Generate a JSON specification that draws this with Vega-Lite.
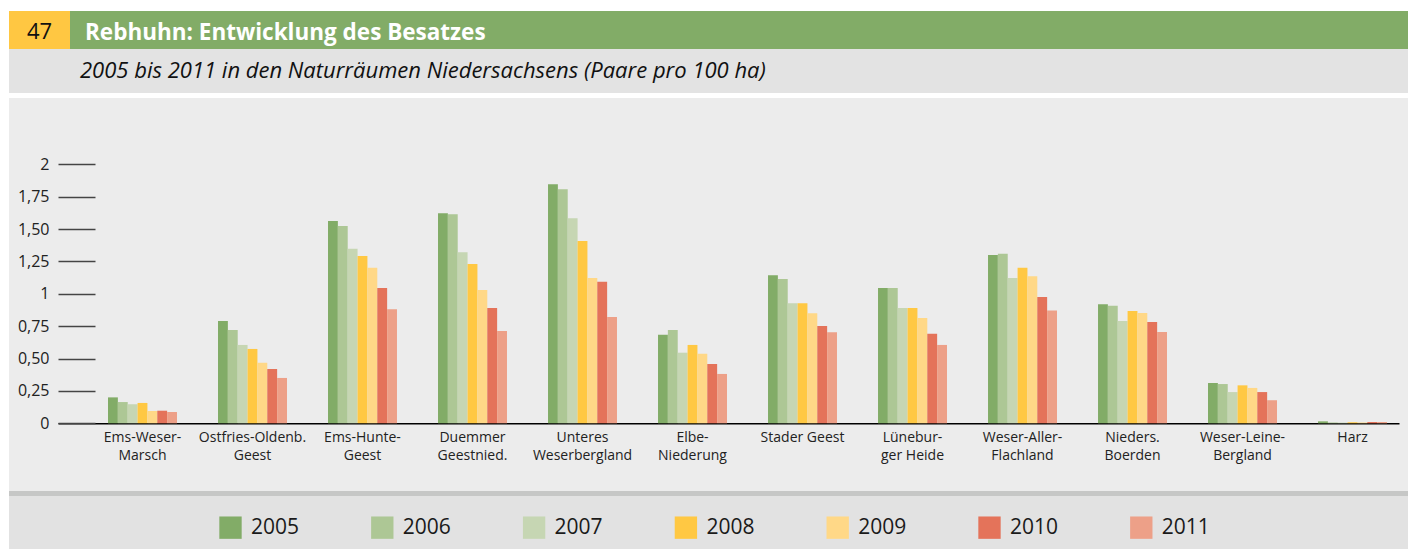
{
  "$schema": "https://vega.github.io/schema/vega-lite/v6.json",
  "background": "white",
  "padding": {"left": 9, "top": 11, "right": 0, "bottom": 0},
  "autosize": {"type": "pad"},
  "config": {
    "view": {"stroke": null},
    "font": "Open Sans",
    "concat": {"spacing": 0}
  },
  "spacing": 0,
  "resolve": {"scale": {"color": "shared"}, "legend": {"color": "shared"}},
  "vconcat": [
    {
      "spacing": 0,
      "bounds": "flush",
      "hconcat": [
        {
          "width": 61, "height": 38,
          "view": {"fill": "#FFC742", "stroke": null},
          "data": {"values": []},
          "mark": "rect",
          "title": {"text": "47", "anchor": "middle", "frame": "group", "offset": -33, "fontSize": 22, "fontWeight": 500, "color": "#111111", "font": "Open Sans"}
        },
        {
          "width": 1338, "height": 38,
          "view": {"fill": "#82AC67", "stroke": null},
          "data": {"values": []},
          "mark": "rect",
          "title": {"text": "Rebhuhn: Entwicklung des Besatzes", "anchor": "start", "frame": "group", "offset": -33.5, "dx": 15, "fontSize": 22.5, "fontWeight": "bold", "color": "#FFFFFF", "font": "Open Sans"}
        }
      ]
    },
    {
      "width": 1399, "height": 44,
      "view": {"fill": "#E3E3E3", "stroke": null},
      "data": {"values": []},
      "mark": "rect",
      "title": {"text": "2005 bis 2011 in den Naturräumen Niedersachsens (Paare pro 100 ha)", "anchor": "start", "frame": "group", "offset": -34, "dx": 71, "fontSize": 22, "fontStyle": "italic", "fontWeight": "normal", "color": "#111111", "font": "Open Sans"}
    },
    {
      "width": 1399, "height": 5,
      "view": {"fill": "#FFFFFF", "stroke": null},
      "data": {"values": []},
      "mark": "rect"
    },
    {
      "width": 1399, "height": 393,
      "view": {"fill": "#ECECEC", "stroke": null},
      "data": {
        "values": [
          {"region": "Ems-Weser-|Marsch", "year": "2005", "value": 0.20},
          {"region": "Ems-Weser-|Marsch", "year": "2006", "value": 0.164},
          {"region": "Ems-Weser-|Marsch", "year": "2007", "value": 0.147},
          {"region": "Ems-Weser-|Marsch", "year": "2008", "value": 0.157},
          {"region": "Ems-Weser-|Marsch", "year": "2009", "value": 0.095},
          {"region": "Ems-Weser-|Marsch", "year": "2010", "value": 0.097},
          {"region": "Ems-Weser-|Marsch", "year": "2011", "value": 0.087},
          {"region": "Ostfries-Oldenb.|Geest", "year": "2005", "value": 0.79},
          {"region": "Ostfries-Oldenb.|Geest", "year": "2006", "value": 0.72},
          {"region": "Ostfries-Oldenb.|Geest", "year": "2007", "value": 0.605},
          {"region": "Ostfries-Oldenb.|Geest", "year": "2008", "value": 0.574},
          {"region": "Ostfries-Oldenb.|Geest", "year": "2009", "value": 0.468},
          {"region": "Ostfries-Oldenb.|Geest", "year": "2010", "value": 0.419},
          {"region": "Ostfries-Oldenb.|Geest", "year": "2011", "value": 0.35},
          {"region": "Ems-Hunte-|Geest", "year": "2005", "value": 1.562},
          {"region": "Ems-Hunte-|Geest", "year": "2006", "value": 1.524},
          {"region": "Ems-Hunte-|Geest", "year": "2007", "value": 1.348},
          {"region": "Ems-Hunte-|Geest", "year": "2008", "value": 1.292},
          {"region": "Ems-Hunte-|Geest", "year": "2009", "value": 1.202},
          {"region": "Ems-Hunte-|Geest", "year": "2010", "value": 1.045},
          {"region": "Ems-Hunte-|Geest", "year": "2011", "value": 0.88},
          {"region": "Duemmer|Geestnied.", "year": "2005", "value": 1.622},
          {"region": "Duemmer|Geestnied.", "year": "2006", "value": 1.614},
          {"region": "Duemmer|Geestnied.", "year": "2007", "value": 1.32},
          {"region": "Duemmer|Geestnied.", "year": "2008", "value": 1.23},
          {"region": "Duemmer|Geestnied.", "year": "2009", "value": 1.03},
          {"region": "Duemmer|Geestnied.", "year": "2010", "value": 0.89},
          {"region": "Duemmer|Geestnied.", "year": "2011", "value": 0.713},
          {"region": "Unteres|Weserbergland", "year": "2005", "value": 1.846},
          {"region": "Unteres|Weserbergland", "year": "2006", "value": 1.807},
          {"region": "Unteres|Weserbergland", "year": "2007", "value": 1.583},
          {"region": "Unteres|Weserbergland", "year": "2008", "value": 1.408},
          {"region": "Unteres|Weserbergland", "year": "2009", "value": 1.122},
          {"region": "Unteres|Weserbergland", "year": "2010", "value": 1.093},
          {"region": "Unteres|Weserbergland", "year": "2011", "value": 0.821},
          {"region": "Elbe-|Niederung", "year": "2005", "value": 0.684},
          {"region": "Elbe-|Niederung", "year": "2006", "value": 0.72},
          {"region": "Elbe-|Niederung", "year": "2007", "value": 0.545},
          {"region": "Elbe-|Niederung", "year": "2008", "value": 0.605},
          {"region": "Elbe-|Niederung", "year": "2009", "value": 0.537},
          {"region": "Elbe-|Niederung", "year": "2010", "value": 0.458},
          {"region": "Elbe-|Niederung", "year": "2011", "value": 0.381},
          {"region": "Stader Geest", "year": "2005", "value": 1.143},
          {"region": "Stader Geest", "year": "2006", "value": 1.114},
          {"region": "Stader Geest", "year": "2007", "value": 0.927},
          {"region": "Stader Geest", "year": "2008", "value": 0.927},
          {"region": "Stader Geest", "year": "2009", "value": 0.849},
          {"region": "Stader Geest", "year": "2010", "value": 0.751},
          {"region": "Stader Geest", "year": "2011", "value": 0.703},
          {"region": "Lünebur-|ger Heide", "year": "2005", "value": 1.045},
          {"region": "Lünebur-|ger Heide", "year": "2006", "value": 1.045},
          {"region": "Lünebur-|ger Heide", "year": "2007", "value": 0.89},
          {"region": "Lünebur-|ger Heide", "year": "2008", "value": 0.89},
          {"region": "Lünebur-|ger Heide", "year": "2009", "value": 0.813},
          {"region": "Lünebur-|ger Heide", "year": "2010", "value": 0.692},
          {"region": "Lünebur-|ger Heide", "year": "2011", "value": 0.605},
          {"region": "Weser-Aller-|Flachland", "year": "2005", "value": 1.30},
          {"region": "Weser-Aller-|Flachland", "year": "2006", "value": 1.31},
          {"region": "Weser-Aller-|Flachland", "year": "2007", "value": 1.122},
          {"region": "Weser-Aller-|Flachland", "year": "2008", "value": 1.202},
          {"region": "Weser-Aller-|Flachland", "year": "2009", "value": 1.135},
          {"region": "Weser-Aller-|Flachland", "year": "2010", "value": 0.975},
          {"region": "Weser-Aller-|Flachland", "year": "2011", "value": 0.87},
          {"region": "Nieders.|Boerden", "year": "2005", "value": 0.919},
          {"region": "Nieders.|Boerden", "year": "2006", "value": 0.908},
          {"region": "Nieders.|Boerden", "year": "2007", "value": 0.79},
          {"region": "Nieders.|Boerden", "year": "2008", "value": 0.867},
          {"region": "Nieders.|Boerden", "year": "2009", "value": 0.852},
          {"region": "Nieders.|Boerden", "year": "2010", "value": 0.782},
          {"region": "Nieders.|Boerden", "year": "2011", "value": 0.705},
          {"region": "Weser-Leine-|Bergland", "year": "2005", "value": 0.311},
          {"region": "Weser-Leine-|Bergland", "year": "2006", "value": 0.303},
          {"region": "Weser-Leine-|Bergland", "year": "2007", "value": 0.241},
          {"region": "Weser-Leine-|Bergland", "year": "2008", "value": 0.293},
          {"region": "Weser-Leine-|Bergland", "year": "2009", "value": 0.273},
          {"region": "Weser-Leine-|Bergland", "year": "2010", "value": 0.241},
          {"region": "Weser-Leine-|Bergland", "year": "2011", "value": 0.178},
          {"region": "Harz", "year": "2005", "value": 0.015},
          {"region": "Harz", "year": "2006", "value": 0.006},
          {"region": "Harz", "year": "2007", "value": 0.005},
          {"region": "Harz", "year": "2008", "value": 0.008},
          {"region": "Harz", "year": "2009", "value": 0.006},
          {"region": "Harz", "year": "2010", "value": 0.01},
          {"region": "Harz", "year": "2011", "value": 0.01}
        ]
      },
      "mark": {"type": "bar"},
      "encoding": {
        "x": {
          "field": "region", "type": "nominal", "sort": null,
          "scale": {"paddingInner": 0.373, "paddingOuter": 0.5455, "align": 0.825},
          "axis": {
            "orient": "bottom", "offset": -67.7, "title": null, "ticks": false,
            "labelAngle": 0, "labelExpr": "split(datum.label, '|')",
            "labelFontSize": 14, "labelFont": "Open Sans", "labelColor": "#222222",
            "labelLineHeight": 18, "labelPadding": 7, "labelOverlap": false, "labelLimit": 300,
            "domain": true, "domainColor": "#000000", "domainWidth": 1.6,
            "domainDash": [0, 49, 1341, 200], "grid": false
          }
        },
        "xOffset": {
          "field": "year", "type": "nominal",
          "scale": {"paddingInner": 0, "paddingOuter": 0}
        },
        "y": {
          "field": "value", "type": "quantitative",
          "scale": {"domain": [-0.523, 2.512], "nice": false, "zero": false},
          "axis": {
            "orient": "left", "offset": -86, "title": null, "domain": false, "grid": false,
            "values": [0, 0.25, 0.5, 0.75, 1, 1.25, 1.5, 1.75, 2],
            "tickSize": 37, "tickColor": "#444444", "tickWidth": 1.5,
            "labelPadding": 9, "labelFontSize": 16, "labelFont": "Open Sans", "labelColor": "#222222",
            "labelFlush": false, "labelOverlap": false,
            "labelExpr": "datum.value % 1 == 0 ? format(datum.value, 'd') : replace(format(datum.value, '.2f'), '.', ',')"
          }
        },
        "y2": {"datum": 0},
        "color": {
          "field": "year", "type": "nominal",
          "scale": {
            "domain": ["2005", "2006", "2007", "2008", "2009", "2010", "2011"],
            "range": ["#82AC67", "#ADC795", "#C6D6B3", "#FFC843", "#FFD887", "#E4735A", "#EDA088"]
          },
          "legend": {
            "orient": "none", "legendX": 210, "legendY": 505,
            "direction": "horizontal", "columns": 7, "title": null,
            "symbolType": "square", "symbolSize": 500, "symbolStrokeWidth": 0, "symbolOpacity": 1,
            "labelFontSize": 21, "labelFont": "Open Sans", "labelColor": "#1a1a1a",
            "labelOffset": 9, "columnPadding": 70.8, "padding": 0
          }
        }
      }
    },
    {
      "width": 1399, "height": 5,
      "view": {"fill": "#C6C7C6", "stroke": null},
      "data": {"values": []},
      "mark": "rect"
    },
    {
      "width": 1399, "height": 53,
      "view": {"fill": "#E2E2E2", "stroke": null},
      "data": {"values": []},
      "mark": "rect"
    }
  ]
}
